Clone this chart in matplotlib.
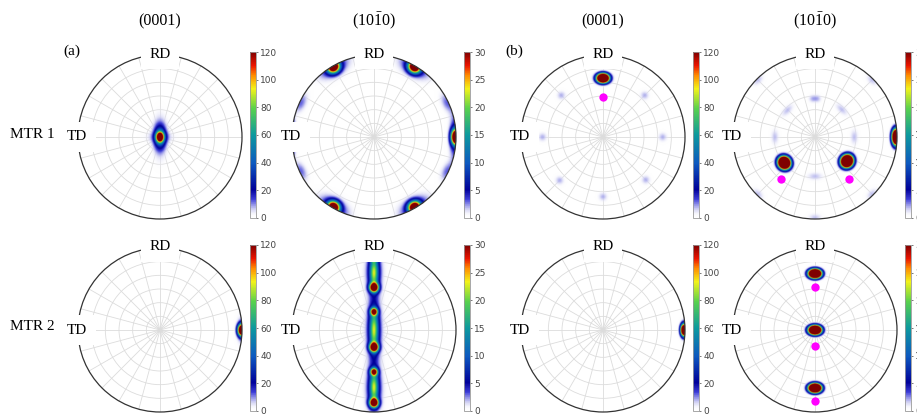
import numpy as np
import matplotlib
matplotlib.use("Agg")
import matplotlib.pyplot as plt
from matplotlib.colors import LinearSegmentedColormap, Normalize
from matplotlib.patches import Circle

plt.rcParams['font.family'] = ['Liberation Serif', 'DejaVu Serif']
plt.rcParams['mathtext.fontset'] = 'custom'
plt.rcParams['mathtext.rm'] = 'Liberation Serif'

# ---- data: pole figure density components ----
# each component: (azimuth deg, radius (0..1), peak value, sigma radial, sigma tangential)
a_mtr1_0001 = [(90, 0.0, 160, 0.04, 0.03), (90, 0.0, 35, 0.09, 0.045),
               (90, 0.0, 14, 0.17, 0.06), (0, 0.0, 7, 0.12, 0.045)]
a_mtr1_1010 = [(60, 0.99, 45, 0.045, 0.05), (120, 0.99, 45, 0.045, 0.05),
               (240, 0.99, 45, 0.045, 0.05), (300, 0.99, 45, 0.045, 0.05),
               (60, 0.99, 5, 0.08, 0.14), (120, 0.99, 5, 0.08, 0.14),
               (240, 0.99, 5, 0.08, 0.14), (300, 0.99, 5, 0.08, 0.14),
               (0, 1.0, 50, 0.035, 0.06), (0, 1.0, 6, 0.05, 0.2),
               (180, 1.0, 8, 0.03, 0.15),
               (25, 0.99, 3, 0.05, 0.09), (155, 0.99, 3, 0.05, 0.09),
               (205, 0.99, 3, 0.05, 0.09), (335, 0.99, 3, 0.05, 0.09)]
a_mtr2_0001 = [(0, 1.0, 220, 0.03, 0.045), (0, 1.0, 15, 0.04, 0.11),
               (180, 1.01, 6, 0.03, 0.08)]
a_mtr2_1010 = [(90, 0.89, 32, 0.03, 0.03), (90, 0.52, 45, 0.035, 0.035),
               (90, 0.70, 18, 0.13, 0.035), (90, 0.72, 5, 0.2, 0.07),
               (90, 0.225, 32, 0.03, 0.03), (270, 0.21, 45, 0.035, 0.035),
               (90, 0.0, 18, 0.17, 0.035), (90, 0.0, 5, 0.25, 0.07),
               (270, 0.51, 32, 0.03, 0.03), (270, 0.89, 45, 0.035, 0.035),
               (270, 0.70, 18, 0.13, 0.035), (270, 0.72, 5, 0.2, 0.07)]
b_mtr1_0001 = [(90, 0.72, 400, 0.033, 0.044), (90, 0.72, 6, 0.05, 0.08),
               (0, 0.73, 8, 0.04, 0.04), (45, 0.72, 8, 0.04, 0.04),
               (135, 0.72, 8, 0.04, 0.04), (180, 0.74, 8, 0.04, 0.04),
               (225, 0.75, 8, 0.04, 0.04), (270, 0.73, 8, 0.04, 0.04),
               (315, 0.74, 8, 0.04, 0.04)]
b_mtr1_1010 = [(220, 0.49, 120, 0.042, 0.045), (323, 0.49, 120, 0.042, 0.045),
               (0, 0.99, 80, 0.03, 0.06),
               (86, 0.47, 1.8, 0.035, 0.035), (94, 0.47, 1.8, 0.035, 0.035),
               (46, 0.47, 1.8, 0.035, 0.07), (136, 0.47, 1.8, 0.035, 0.07),
               (0, 0.48, 1.8, 0.035, 0.07), (180, 0.49, 1.8, 0.035, 0.07),
               (270, 0.48, 1.8, 0.035, 0.07),
               (45, 0.99, 1.8, 0.04, 0.06), (135, 0.99, 1.8, 0.04, 0.06),
               (225, 0.99, 1.8, 0.04, 0.06), (315, 0.99, 1.8, 0.04, 0.06),
               (270, 0.99, 1.8, 0.04, 0.06), (180, 1.0, 1.8, 0.04, 0.07)]
b_mtr2_0001 = [(0, 0.99, 250, 0.025, 0.045), (0, 0.99, 10, 0.03, 0.08)]
b_mtr2_1010 = [(90, 0.69, 120, 0.032, 0.045), (90, 0.0, 120, 0.032, 0.045),
               (270, 0.71, 120, 0.032, 0.045)]

# magenta markers: (azimuth deg, radius)
b_mtr1_0001_dots = [(90, 0.49)]
b_mtr1_1010_dots = [(231, 0.66), (309, 0.66)]
b_mtr2_1010_dots = [(90, 0.52), (270, 0.20), (270, 0.87)]

col_titles = ['(0001)', r'(10$\mathrm{\bar{1}}$0)', '(0001)', r'(10$\mathrm{\bar{1}}$0)']
row_labels = ['MTR 1', 'MTR 2']
ticks_0001 = [0, 20, 40, 60, 80, 100, 120]
ticks_1010 = [0, 5, 10, 15, 20, 25, 30]

panels = [
    # (column index, row index, components, dots, ticks)
    (0, 0, a_mtr1_0001, [], ticks_0001),
    (1, 0, a_mtr1_1010, [], ticks_1010),
    (0, 1, a_mtr2_0001, [], ticks_0001),
    (1, 1, a_mtr2_1010, [], ticks_1010),
    (2, 0, b_mtr1_0001, b_mtr1_0001_dots, ticks_0001),
    (3, 0, b_mtr1_1010, b_mtr1_1010_dots, ticks_1010),
    (2, 1, b_mtr2_0001, [], ticks_0001),
    (3, 1, b_mtr2_1010, b_mtr2_1010_dots, ticks_1010),
]

# ---- layout (pixels) ----
W, H = 917, 418
col_x = [160, 374, 603, 815]
row_y = [137, 330]
R = 82

# white-to-jet map, transparent at the very bottom so the grid shows through
cmap = LinearSegmentedColormap.from_list('pf', [
    (0.00, (1.0, 1.0, 1.0, 0.0)),
    (0.05, (0.80, 0.80, 0.95, 0.85)),
    (0.11, (0.25, 0.25, 0.85, 1.0)),
    (0.17, (0.0, 0.0, 0.60, 1.0)),
    (0.33, (0.05, 0.35, 0.75, 1.0)),
    (0.50, (0.05, 0.60, 0.62, 1.0)),
    (0.66, (0.35, 0.82, 0.30, 1.0)),
    (0.78, (0.95, 0.95, 0.10, 1.0)),
    (0.86, (1.0, 0.55, 0.0, 1.0)),
    (0.92, (0.92, 0.08, 0.0, 1.0)),
    (1.00, (0.50, 0.0, 0.0, 1.0)),
])

n = 361
g = np.linspace(-1, 1, n)
X, Y = np.meshgrid(g, g)


def density(comps):
    Z = np.zeros_like(X)
    for az, r, amp, sr, st in comps:
        t = np.deg2rad(az)
        x0, y0 = r * np.cos(t), r * np.sin(t)
        u = (X - x0) * np.cos(t) + (Y - y0) * np.sin(t)
        v = -(X - x0) * np.sin(t) + (Y - y0) * np.cos(t)
        Z += amp * np.exp(-(u ** 2 / (2 * sr ** 2) + v ** 2 / (2 * st ** 2)))
    return Z


def fx(px):
    return px / W


def fy(py):
    return 1 - py / H


fig = plt.figure(figsize=(W / 100, H / 100), dpi=100)

for ci, ri, comps, dots, ticks in panels:
    cx, cy = col_x[ci], row_y[ri]
    ax = fig.add_axes([fx(cx - R), fy(cy + R), 2 * R / W, 2 * R / H])
    ax.set_xlim(-1, 1)
    ax.set_ylim(-1, 1)
    ax.axis('off')

    # polar grid underneath
    for rr in np.arange(1, 6) / 6:
        ax.add_patch(Circle((0, 0), rr, fill=False, ec='#dcdcdc', lw=0.6, zorder=1))
    for a in np.deg2rad(np.arange(0, 360, 15)):
        ax.plot([0, np.cos(a)], [0, np.sin(a)], color='#dcdcdc', lw=0.6, zorder=1)

    Z = density(comps)
    norm = Normalize(0, ticks[-1])
    clip = Circle((0, 0), 1, transform=ax.transData)
    im = ax.imshow(np.clip(Z, 0, ticks[-1]), extent=[-1, 1, -1, 1], origin='lower',
                   cmap=cmap, norm=norm, interpolation='bilinear', zorder=2)
    im.set_clip_path(clip)

    ax.add_patch(Circle((0, 0), 1, fill=False, ec='#333333', lw=0.9, clip_on=False, zorder=3))

    for az, r in dots:
        t = np.deg2rad(az)
        ax.plot(r * np.cos(t), r * np.sin(t), 'o', color='#ff00ff', ms=6, mec='none', zorder=4)

    box = dict(boxstyle='square,pad=0.55', fc='white', ec='none')
    fig.text(fx(cx), fy(cy - R - 1), 'RD', ha='center', va='center', fontsize=11, bbox=box)
    fig.text(fx(cx - R - 1), fy(cy), 'TD', ha='center', va='center', fontsize=11, bbox=box)

    cax = fig.add_axes([fx(cx + 90), fy(row_y[ri] + 81), 6 / W, 166 / H])
    cb = fig.colorbar(im, cax=cax, ticks=ticks)
    cb.outline.set_edgecolor('#999999')
    cb.outline.set_linewidth(0.6)
    cax.tick_params(labelsize=6.5, colors='#444444', length=1.5, width=0.5, pad=1.5)
    for lab in cax.get_yticklabels():
        lab.set_family('DejaVu Sans')

for ci, t in enumerate(col_titles):
    fig.text(fx(col_x[ci]), fy(21), t, ha='center', va='center', fontsize=11.5)
for ri, t in enumerate(row_labels):
    fig.text(fx(32), fy(row_y[ri] - 3), t, ha='center', va='center', fontsize=11)
fig.text(fx(72), fy(51), '(a)', ha='center', va='center', fontsize=11)
fig.text(fx(514), fy(51), '(b)', ha='center', va='center', fontsize=11)

fig.savefig('out.png', dpi=100)
